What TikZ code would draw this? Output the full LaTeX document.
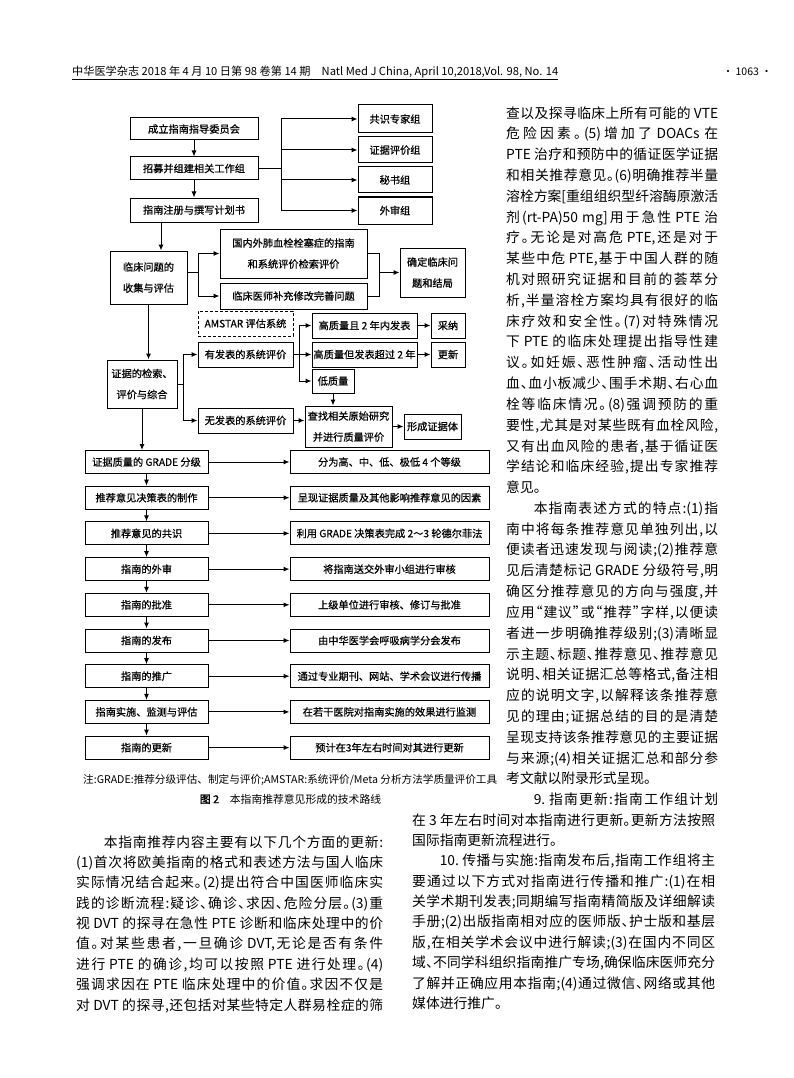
\documentclass[tikz,border=0pt]{standalone}
\usepackage{fontspec}
\usepackage{graphicx}
\setmainfont{Noto Sans CJK SC}
\newfontfamily\bodyfont{Noto Sans CJK SC}[RawFeature=+halt]
\newfontfamily\flowcjk{Noto Sans CJK SC}[FakeBold=0.6]
\newfontfamily\boldcjk{Noto Sans CJK SC}[FakeBold=1.5]
\usetikzlibrary{arrows.meta}
% glue between CJK characters, so that lines can be justified
\XeTeXinterchartokenstate=1
\newXeTeXintercharclass\cjkcls
\newcount\cjkc
\newcommand\setcls[2]{\cjkc=#1
  \loop\XeTeXcharclass\cjkc=\cjkcls
  \ifnum\cjkc<#2 \advance\cjkc by 1 \repeat}
\setcls{"4E00}{"9FFF}
\setcls{"3000}{"303F}
\setcls{"FF00}{"FFEF}
\setcls{"201C}{"201D}
\XeTeXinterchartoks\cjkcls\cjkcls={\hskip0pt plus 3pt\relax}
\XeTeXinterchartoks\cjkcls 0={\hskip0pt plus 3pt\relax}
\XeTeXinterchartoks 0\cjkcls={\hskip0pt plus 3pt\relax}
\newdimen\colw
\newcommand\jl[1]{\hbox to\colw{#1}}
\newcommand\el[1]{\hbox to\colw{#1\hfil}}
\newcommand\ind{\hskip2em}
\newcommand\flowfont{\flowcjk\fontsize{10.2}{21}\selectfont}

\begin{document}
\begin{tikzpicture}[x=1pt,y=-1pt,>={Latex[length=6pt,width=5pt]},
  cell/.style 2 args={draw,line width=1pt,inner sep=0pt,align=center,
    font=\flowfont,minimum width=#1,minimum height=#2},
  link/.style={line width=1pt},
  textcol/.style={inner sep=0pt,anchor=base west,font=\bodyfont}]
  \fill[white] (0,0) rectangle (794,1078);
  \useasboundingbox (0,0) rectangle (794,1078);

  % Running head
  \node[anchor=base west,inner sep=0pt,font=\fontsize{10.5}{12}\selectfont] (head) at (72,76)
    {\resizebox{486pt}{!}{中华医学杂志 2018 年 4 月 10 日第 98 卷第 14 期\quad Natl Med J China, April 10,2018,Vol. 98, No. 14}};
  \draw[line width=0.6pt] ([yshift=-1pt]head.south west) -- ([yshift=-1pt]head.south east);
  \node[anchor=base east,inner sep=0pt,font=\fontsize{10.5}{12}\selectfont] (folio) at (772,76) {· 1063 ·};

  % Working groups
  \node[cell={128}{22}] (lead) at (194,129) {成立指南指导委员会};
  \node[cell={128}{23}] (recruit) at (194,168.5) {招募并组建相关工作组};
  \node[cell={128}{24}] (plan) at (194,210) {指南注册与撰写计划书};
  \node[cell={74}{28}] (consensus) at (395,119) {共识专家组};
  \node[cell={74}{26}] (evgroup) at (395,150) {证据评价组};
  \node[cell={74}{26}] (secret) at (395,180) {秘书组};
  \node[cell={74}{27}] (extgroup) at (395,210.5) {外审组};
  \coordinate (hubA) at (281,168.5);
  \draw[->,link] (lead) -- (recruit);
  \draw[->,link] (recruit) -- (plan);
  \draw[link] (recruit) -- (hubA);
  \draw[link] (hubA |- consensus) -- (hubA |- extgroup);
  \draw[->,link] (hubA |- consensus) -- (consensus);
  \draw[->,link] (hubA |- evgroup) -- (evgroup);
  \draw[->,link] (hubA |- secret) -- (secret);
  \draw[->,link] (hubA |- extgroup) -- (extgroup);

  % Clinical questions
  \node[cell={77}{53}] (clin) at (148.5,277.5) {临床问题的\\收集与评估};
  \node[cell={147}{49}] (lit) at (293.5,253.5) {国内外肺血栓栓塞症的指南\\和系统评价检索评价};
  \node[cell={147}{26}] (doc) at (293.5,296) {临床医师补充修改完善问题};
  \node[cell={65}{49}] (outcome) at (432.5,272.5) {确定临床问\\题和结局};
  \coordinate (drop) at ([xshift=-33pt]plan.south);
  \coordinate (hubB) at (198,272);
  \coordinate (hubC) at (379,272.5);
  \draw[->,link] (drop) -- (drop |- clin.north);
  \draw[link] (clin.east |- hubB) -- (hubB);
  \draw[link] (hubB |- lit) -- (hubB |- doc);
  \draw[->,link] (hubB |- lit) -- (lit);
  \draw[->,link] (hubB |- doc) -- (doc);
  \draw[link] (lit) -- (hubC |- lit) -- (hubC |- doc) -- (doc);
  \draw[->,link] (hubC) -- (outcome);

  % Evidence
  \node[cell={70}{48}] (evid) at (142,384) {证据的检索、\\评价与综合};
  \node[cell={95}{25},dash pattern=on 3pt off 2pt] (amstar) at (245.5,323.5) {AMSTAR 评估系统};
  \node[cell={95}{25}] (pub) at (245.5,354.5) {有发表的系统评价};
  \node[cell={95}{25}] (nopub) at (245.5,420.5) {无发表的系统评价};
  \node[cell={105}{25}] (hqnew) at (364.5,325.5) {高质量且 2 年内发表};
  \node[cell={105}{25}] (hqold) at (364.5,354.5) {高质量但发表超过 2 年};
  \node[cell={42}{24}] (lowq) at (333,381) {低质量};
  \node[cell={34}{25}] (adopt) at (448,325.5) {采纳};
  \node[cell={34}{25}] (renew) at (448,354.5) {更新};
  \node[cell={87}{41}] (search) at (348.5,426.5) {查找相关原始研究\\并进行质量评价};
  \node[cell={57}{25}] (body) at (432.5,426.5) {形成证据体};
  \coordinate (hubD) at (183,384);
  \coordinate (hubE) at (299,354.5);
  \draw[->,link] (clin) -- (clin |- evid.north);
  \draw[link] (evid) -- (hubD);
  \draw[link] (hubD |- pub) -- (hubD |- nopub);
  \draw[->,link] (hubD |- pub) -- (pub);
  \draw[->,link] (hubD |- nopub) -- (nopub);
  \draw[link] (pub) -- (hubE);
  \draw[link] (hubE |- hqnew) -- (hubE |- lowq);
  \draw[->,link] (hubE |- hqnew) -- (hqnew);
  \draw[->,link] (hubE) -- (hqold);
  \draw[->,link] (hubE |- lowq) -- (lowq);
  \draw[->,link] (hqnew) -- (adopt);
  \draw[->,link] (hqold) -- (renew);
  \draw[->,link] (lowq) -- (lowq |- search.north);
  \draw[->,link] (nopub) -- (nopub -| search.west);
  \draw[->,link] (search) -- (body);

  % Steps down the left side
  \node[cell={123}{23}] (grade) at (146.5,462) {证据质量的 GRADE 分级};
  \node[cell={123}{23}] (table) at (146.5,497.7) {推荐意见决策表的制作};
  \node[cell={123}{23}] (agree) at (146.5,533.4) {推荐意见的共识};
  \node[cell={123}{23}] (review) at (146.5,569.1) {指南的外审};
  \node[cell={123}{23}] (approve) at (146.5,604.8) {指南的批准};
  \node[cell={123}{23}] (release) at (146.5,640.5) {指南的发布};
  \node[cell={123}{23}] (spread) at (146.5,676.2) {指南的推广};
  \node[cell={123}{23}] (monitor) at (146.5,711.9) {指南实施、监测与评估};
  \node[cell={123}{23}] (update) at (146.5,747.6) {指南的更新};
  \node[cell={199}{23}] (gradeR) at (389.5,462) {分为高、中、低、极低 4 个等级};
  \node[cell={199}{23}] (tableR) at (389.5,497.7) {呈现证据质量及其他影响推荐意见的因素};
  \node[cell={199}{23}] (agreeR) at (389.5,533.4) {利用 GRADE 决策表完成 2～3 轮德尔菲法};
  \node[cell={199}{23}] (reviewR) at (389.5,569.1) {将指南送交外审小组进行审核};
  \node[cell={199}{23}] (approveR) at (389.5,604.8) {上级单位进行审核、修订与批准};
  \node[cell={199}{23}] (releaseR) at (389.5,640.5) {由中华医学会呼吸病学分会发布};
  \node[cell={199}{23}] (spreadR) at (389.5,676.2) {通过专业期刊、网站、学术会议进行传播};
  \node[cell={199}{23}] (monitorR) at (389.5,711.9) {在若干医院对指南实施的效果进行监测};
  \node[cell={199}{23}] (updateR) at (389.5,747.6) {预计在3年左右时间对其进行更新};
  \draw[->,link] (evid) -- (evid |- grade.north);
  \draw[->,link] (grade) -- (table);
  \draw[->,link] (table) -- (agree);
  \draw[->,link] (agree) -- (review);
  \draw[->,link] (review) -- (approve);
  \draw[->,link] (approve) -- (release);
  \draw[->,link] (release) -- (spread);
  \draw[->,link] (spread) -- (monitor);
  \draw[->,link] (monitor) -- (update);
  \draw[->,link] (grade) -- (gradeR);
  \draw[->,link] (table) -- (tableR);
  \draw[->,link] (agree) -- (agreeR);
  \draw[->,link] (review) -- (reviewR);
  \draw[->,link] (approve) -- (approveR);
  \draw[->,link] (release) -- (releaseR);
  \draw[->,link] (spread) -- (spreadR);
  \draw[->,link] (monitor) -- (monitorR);
  \draw[->,link] (update) -- (updateR);

  % Note and caption
  \node[anchor=base west,inner sep=0pt,font=\fontsize{10.5}{12}\selectfont] (note) at (83,783)
    {\resizebox{414pt}{!}{注:GRADE:推荐分级评估、制定与评价;AMSTAR:系统评价/Meta 分析方法学质量评价工具}};
  \node[inner sep=0pt,font=\fontsize{10.8}{12}\selectfont] (caption) at (290.5,799) {{\boldcjk 图 2}\quad 本指南推荐意见形成的技术路线};

  % Body text
  \node[textcol] (colNarrow) at (506,118.2) {\fontsize{13.8}{20.8}\selectfont\colw=212pt\vtop{%
    \jl{查以及探寻临床上所有可能的 VTE}
    \jl{危险因素。(5)增加了 DOACs 在}
    \jl{PTE 治疗和预防中的循证医学证据}
    \jl{和相关推荐意见。(6)明确推荐半量}
    \jl{溶栓方案[重组组织型纤溶酶原激活}
    \jl{剂(rt-PA)50 mg]用于急性 PTE 治}
    \jl{疗。无论是对高危 PTE,还是对于}
    \jl{某些中危 PTE,基于中国人群的随}
    \jl{机对照研究证据和目前的荟萃分}
    \jl{析,半量溶栓方案均具有很好的临}
    \jl{床疗效和安全性。(7)对特殊情况}
    \jl{下 PTE 的临床处理提出指导性建}
    \jl{议。如妊娠、恶性肿瘤、活动性出}
    \jl{血、血小板减少、围手术期、右心血}
    \jl{栓等临床情况。(8)强调预防的重}
    \jl{要性,尤其是对某些既有血栓风险,}
    \jl{又有出血风险的患者,基于循证医}
    \jl{学结论和临床经验,提出专家推荐}
    \el{意见。}
    \jl{\ind 本指南表述方式的特点:(1)指}
    \jl{南中将每条推荐意见单独列出,以}
    \jl{便读者迅速发现与阅读;(2)推荐意}
    \jl{见后清楚标记 GRADE 分级符号,明}
    \jl{确区分推荐意见的方向与强度,并}
    \jl{应用“建议”或“推荐”字样,以便读}
    \jl{者进一步明确推荐级别;(3)清晰显}
    \jl{示主题、标题、推荐意见、推荐意见}
    \jl{说明、相关证据汇总等格式,备注相}
    \jl{应的说明文字,以解释该条推荐意}
    \jl{见的理由;证据总结的目的是清楚}
    \jl{呈现支持该条推荐意见的主要证据}
    \jl{与来源;(4)相关证据汇总和部分参}
    \el{考文献以附录形式呈现。}
    \jl{\ind 9.\ 指南更新:指南工作组计划}}};
  \node[textcol] (colLeft) at (76,847.2) {\fontsize{13.8}{20.35}\selectfont\colw=307pt\vtop{%
    \jl{\ind 本指南推荐内容主要有以下几个方面的更新:}
    \jl{(1)首次将欧美指南的格式和表述方法与国人临床}
    \jl{实际情况结合起来。(2)提出符合中国医师临床实}
    \jl{践的诊断流程:疑诊、确诊、求因、危险分层。(3)重}
    \jl{视 DVT 的探寻在急性 PTE 诊断和临床处理中的价}
    \jl{值。对某些患者,一旦确诊 DVT,无论是否有条件}
    \jl{进行 PTE 的确诊,均可以按照 PTE 进行处理。(4)}
    \jl{强调求因在 PTE 临床处理中的价值。求因不仅是}
    \jl{对 DVT 的探寻,还包括对某些特定人群易栓症的筛}}};
  \node[textcol] (colRight) at (412,825.2) {\fontsize{13.8}{20.35}\selectfont\colw=303pt\vtop{%
    \jl{在 3 年左右时间对本指南进行更新。更新方法按照}
    \el{国际指南更新流程进行。}
    \jl{\ind 10.\ 传播与实施:指南发布后,指南工作组将主}
    \jl{要通过以下方式对指南进行传播和推广:(1)在相}
    \jl{关学术期刊发表;同期编写指南精简版及详细解读}
    \jl{手册;(2)出版指南相对应的医师版、护士版和基层}
    \jl{版,在相关学术会议中进行解读;(3)在国内不同区}
    \jl{域、不同学科组织指南推广专场,确保临床医师充分}
    \jl{了解并正确应用本指南;(4)通过微信、网络或其他}
    \el{媒体进行推广。}}};
\end{tikzpicture}
\end{document}
